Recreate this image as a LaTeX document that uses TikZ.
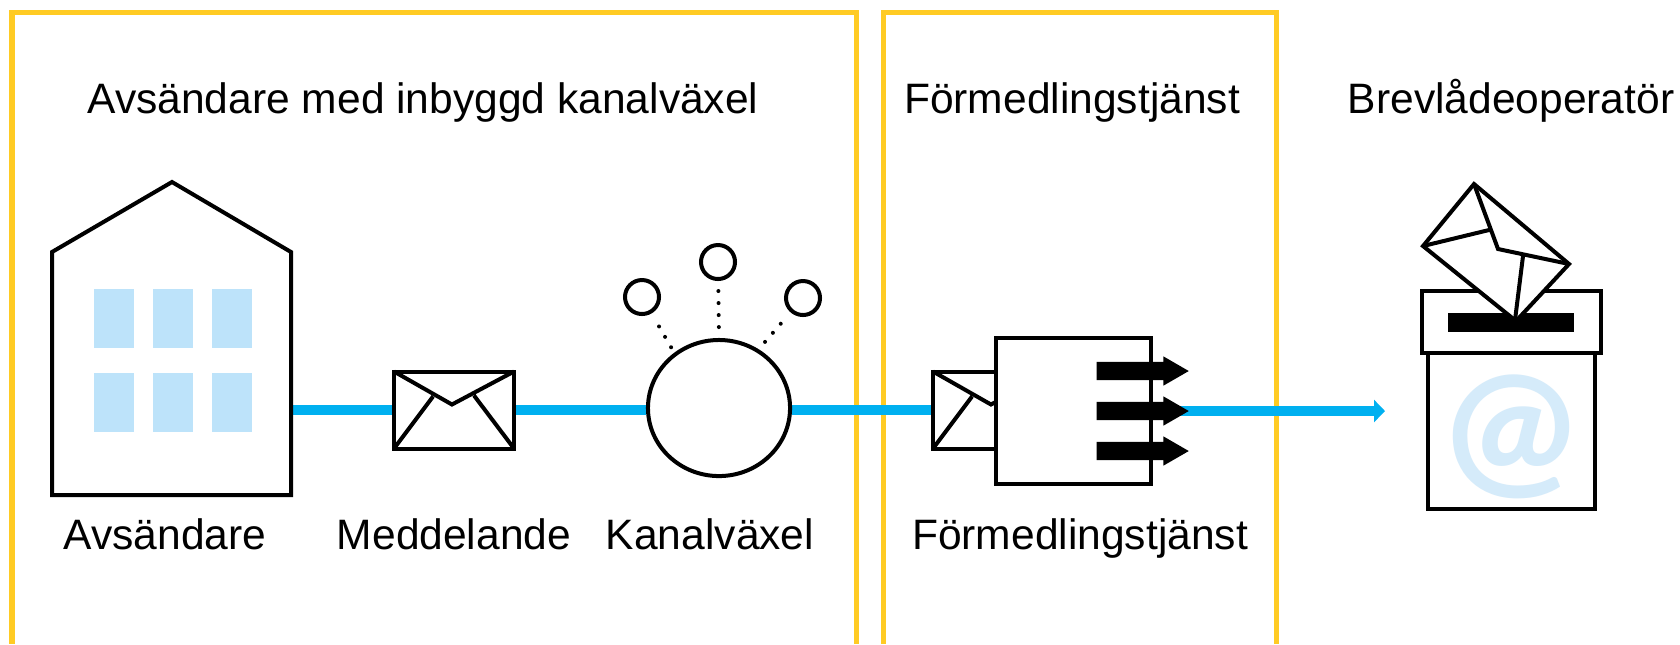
\documentclass[tikz,border=0pt]{standalone}
\usepackage{fontspec}
\setmainfont{Liberation Sans}
\newfontfamily\atfont{Carlito}
\usetikzlibrary{arrows.meta,shapes,positioning,backgrounds}
\definecolor{ramgul}{HTML}{FFCB23}
\definecolor{kabelbla}{HTML}{00B0F0}
\definecolor{fonsterbla}{HTML}{BDE3FA}
\definecolor{atbla}{HTML}{D5EBFA}

\begin{document}
\begin{tikzpicture}[
  x=0.01cm, y=-0.01cm,
  line join=miter,
  label/.style={inner sep=0pt, anchor=base, font=\fontsize{12.1pt}{14pt}\selectfont},
  ram/.style={draw=ramgul, line width=0.05cm},
  wire/.style={draw=kabelbla, line width=0.1cm},
  figur/.style={draw=black, line width=0.04cm, fill=white},
  streck/.style={draw=black, line width=0.04cm},
  kuvert/.style={figur, rectangle, outer sep=0pt, minimum width=1.2cm, minimum height=0.77cm},
  fonster/.style={rectangle, fill=fonsterbla, minimum width=0.4cm, minimum height=0.59cm, inner sep=0pt},
  kanal/.style={figur, circle, minimum size=0.34cm, inner sep=0pt},
  prick/.style={line width=0.04cm, line cap=round, dash pattern=on 0pt off 0.12cm},
  pil/.style={single arrow, fill=black, inner xsep=0pt, inner ysep=0.085cm, anchor=tail, minimum height=0.92cm,
    single arrow head extend=0.055cm, single arrow tip angle=60}
]
\useasboundingbox (0,0) rectangle (1680,644);

% rubriker
\node[label] (rubrik1) at (423,113) {Avsändare med inbyggd kanalväxel};
\node[label] (rubrik2) at (1072,113) {Förmedlingstjänst};
\node[label] (rubrik3) at (1511,113) {Brevlådeoperatör};

% avsandare
\draw[figur] (52,495) -- (52,252) -- (172,182) -- (291,252) -- (291,495) -- cycle;
\foreach \x in {114,173,232}
  \foreach \y in {318,402}
    \node[fonster] (ruta\x\y) at (\x,\y) {};
\coordinate (hus) at (291,410);
\node[label] (avsandare) at (165,549) {Avsändare};

% meddelande och kanalvaxel
\node[kuvert] (meddelande) at (454,410) {};
\node[label] (medtext) at (454,549) {Meddelande};
\node[figur, ellipse, minimum width=1.42cm, minimum height=1.36cm, inner sep=0pt] (kanalvaxel) at (719,408) {};
\node[kanal] (kanal1) at (642,297) {};
\node[kanal] (kanal2) at (718,262) {};
\node[kanal] (kanal3) at (803,298) {};
\node[label] (kanaltext) at (710,549) {Kanalväxel};

% formedlingstjanst
\node[kuvert] (inskick) at (993,410) {};
\foreach \env in {meddelande,inskick}
  \draw[streck] (\env.north west) -- ++(58,33) -- (\env.north east)
    (\env.south west) -- ++(39,-52) (\env.south east) -- ++(-40,-53);
\node[figur, rectangle, outer sep=0pt, minimum width=1.55cm, minimum height=1.46cm] (tjanst) at (1073.5,411) {};
\foreach \i/\y in {1/371,2/411,3/451}
  \node[pil] (pil\i) at (1096,\y) {};
\node[label] (tjansttext) at (1080,549) {Förmedlingstjänst};

% brevlada
\node[figur, rectangle, outer sep=0pt, minimum width=1.67cm, minimum height=1.56cm] (lada) at (1511.5,431) {};
\node[inner sep=0pt, text=atbla, font=\atfont\bfseries\fontsize{46pt}{46pt}\selectfont] (at) at (1511,437) {@};
\node[figur, rectangle, outer sep=0pt, minimum width=1.79cm, minimum height=0.62cm] (lock) at (1511.5,322) {};
\node[rectangle, fill=black, minimum width=1.26cm, minimum height=0.19cm, inner sep=0pt] (springa) at (1511,322.5) {};
\draw[streck, fill=white] (1474,184) -- (1569,264) -- (1516,321) -- (1423,246) -- cycle;
\draw[streck] (1474,184) -- (1498,249) -- (1569,264)
  (1423,246) -- (1489,230) (1523,256) -- (1515,320);
\coordinate (mottagare) at (1385,411);

\begin{scope}[on background layer]
\draw[ram] (12,644) -- (12,12) -- (856,12) -- (856,644);
\draw[ram] (883,644) -- (883,12) -- (1276,12) -- (1276,644);
\draw[wire] (hus) -- (meddelande);
\draw[wire] (meddelande) -- (meddelande -| kanalvaxel.west);
\draw[wire] (meddelande -| kanalvaxel.east) -- (inskick);
\draw[wire, -{Triangle[length=0.11cm, width=0.22cm]}] (pil2.center) -- (mottagare);
\end{scope}
\draw[prick, shorten <=0.15cm, shorten >=0.06cm] (kanal1) -- (kanalvaxel.129);
\draw[prick, shorten <=0.1cm, shorten >=0.02cm] (kanal2) -- (kanalvaxel.90);
\draw[prick, shorten <=0.15cm, shorten >=0.06cm] (kanal3) -- (kanalvaxel.56);

\end{tikzpicture}
\end{document}
